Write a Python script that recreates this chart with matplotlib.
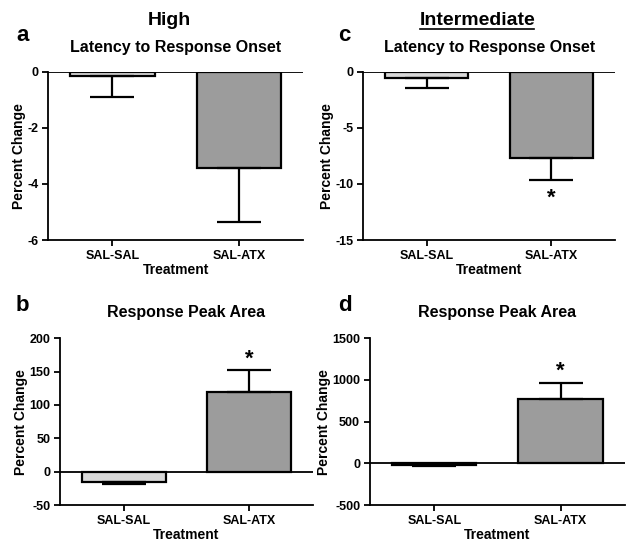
import matplotlib.pyplot as plt

plt.rcParams['font.family'] = ['Liberation Sans', 'DejaVu Sans']
plt.rcParams['font.weight'] = 'bold'
plt.rcParams['axes.unicode_minus'] = False

groups = ['SAL-SAL', 'SAL-ATX']
colors = ['#d8d8d8', '#9c9c9c']

# a: High, latency
lat_high = [-0.15, -3.42]
lat_high_err = [0.73, 1.93]
# c: Intermediate, latency
lat_int = [-0.55, -7.7]
lat_int_err = [0.85, 1.97]
# b: High, peak area
area_high = [-15, 119]
area_high_err = [3, 33]
# d: Intermediate, peak area
area_int = [-20, 772]
area_int_err = [5, 188]

fig = plt.figure(figsize=(6.41, 5.57), dpi=100)


def panel(rect, vals, errs, ylim, yticks, title, pad, star=None):
    ax = fig.add_axes(rect)
    x = [0, 1]
    ax.bar(x, vals, width=0.667, color=colors, edgecolor='black', linewidth=1.6, zorder=2)
    # one-sided error bars away from zero
    for xi, v, e in zip(x, vals, errs):
        lo, hi = (e, 0) if v < 0 else (0, e)
        ax.errorbar(xi, v, yerr=[[lo], [hi]], fmt='none', ecolor='black',
                    elinewidth=1.6, capsize=16, capthick=1.6, zorder=3)
    ax.axhline(0, color='black', linewidth=1.3, zorder=4)
    ax.set_xlim(-0.51, 1.51)
    ax.set_ylim(*ylim)
    ax.set_yticks(yticks)
    ax.set_xticks(x)
    ax.set_xticklabels(groups)
    for s in ['top', 'right']:
        ax.spines[s].set_visible(False)
    for s in ['left', 'bottom']:
        ax.spines[s].set_linewidth(1.3)
    ax.tick_params(width=1.3, length=4.5, pad=2.5, labelsize=9)
    ax.set_xlabel('Treatment', fontsize=10, fontweight='bold', labelpad=1)
    ax.set_ylabel('Percent Change', fontsize=10, fontweight='bold', labelpad=1)
    ax.set_title(title, fontsize=11.5, fontweight='bold', pad=pad)
    if star is not None:
        ax.text(1, star, '*', ha='center', va='center', fontsize=16, fontweight='bold')
    return ax


panel([0.075, 0.569, 0.398, 0.302], lat_high, lat_high_err, (-6, 0), [-6, -4, -2, 0],
      'Latency to Response Onset', 14)
panel([0.567, 0.569, 0.392, 0.302], lat_int, lat_int_err, (-15, 0), [-15, -10, -5, 0],
      'Latency to Response Onset', 14, star=-11.3)
panel([0.094, 0.093, 0.394, 0.300], area_high, area_high_err, (-50, 200),
      [-50, 0, 50, 100, 150, 200], 'Response Peak Area', 15, star=168)
panel([0.577, 0.093, 0.398, 0.300], area_int, area_int_err, (-500, 1500),
      [-500, 0, 500, 1000, 1500], 'Response Peak Area', 15, star=1100)

fig.text(0.265, 0.963, 'High', ha='center', va='center', fontsize=14, fontweight='bold')
fig.text(0.745, 0.963, 'Intermediate', ha='center', va='center', fontsize=14,
         fontweight='bold')
fig.add_artist(plt.Line2D([0.655, 0.833], [0.948, 0.948], color='black', linewidth=1.2))

fig.text(0.025, 0.937, 'a', ha='left', va='center', fontsize=16, fontweight='bold')
fig.text(0.527, 0.937, 'c', ha='left', va='center', fontsize=16, fontweight='bold')
fig.text(0.025, 0.451, 'b', ha='left', va='center', fontsize=16, fontweight='bold')
fig.text(0.527, 0.451, 'd', ha='left', va='center', fontsize=16, fontweight='bold')

fig.savefig('out.png', dpi=100)
